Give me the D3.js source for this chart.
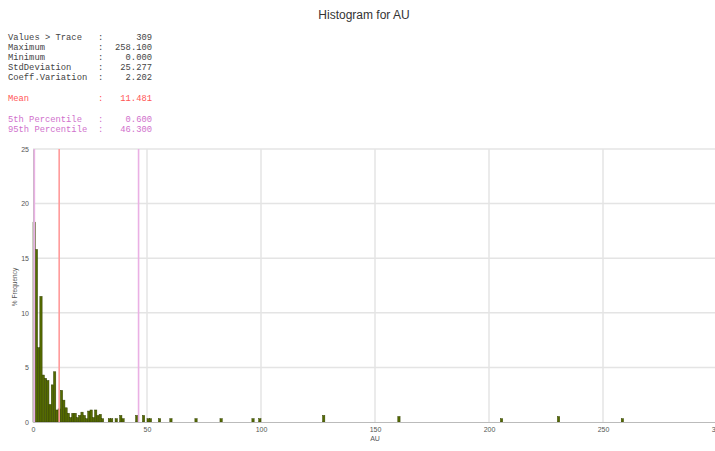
<!DOCTYPE html>
<html>
<head>
<meta charset="utf-8">
<script src="https://cdn.jsdelivr.net/npm/d3@7"></script>
<style>
  html, body { margin: 0; padding: 0; background: #fff; }
  svg { display: block; }
</style>
</head>
<body>
<svg id="chart" width="715" height="451"></svg>
<script>
// ---- data ----
const title = "Histogram for AU";
const xLabel = "AU";
const yLabel = "% Frequency";

// bin lower edges (bin width 1 AU) and % frequency
const binStart = [0,1,2,3,4,5,6,7,8,9,10,11,12,13,14,15,16,17,18,19,20,21,22,23,24,25,26,27,28,29,30,
  33,34,36,38,39,45,48,50,51,55,60,71,82,96,99,127,160,205,230,258];
const binFreq = [18.3,15.8,6.8,11.5,4.3,4.0,3.8,1.6,3.4,4.6,1.1,1.2,2.9,2.0,1.3,0.8,0.4,0.8,0.8,0.4,0.6,0.9,0.6,0.3,1.0,1.1,0.4,1.1,0.6,0.7,0.3,
  0.3,0.3,0.3,0.6,0.3,0.6,0.6,0.3,0.3,0.3,0.3,0.3,0.3,0.3,0.3,0.6,0.5,0.3,0.5,0.3];
const binWidth = 1;

const xTicks = [0,50,100,150,200,250,300];
const yTicks = [0,5,10,15,20,25];

const statLabels = ["Values > Trace","Maximum","Minimum","StdDeviation","Coeff.Variation"];
const statValues = ["309","258.100","0.000","25.277","2.202"];
const meanLabel = "Mean", meanValue = 11.481;
const pctLabels = ["5th Percentile","95th Percentile"];
const pctValues = [0.600, 46.300];

// ---- drawing ----
(function(){
const svg = d3.select("#chart");
const pL = 33, pR = 717, pT = 149, pB = 422;

const x = d3.scaleLinear().domain([0,300]).range([pL,pR]);
const y = d3.scaleLinear().domain([0,25]).range([pB,pT]);
const sans = "Liberation Sans, Arial, sans-serif";

// title
svg.append("text")
  .attr("x", 364).attr("y", 19)
  .attr("text-anchor","middle")
  .attr("font-family",sans)
  .attr("font-size", 12)
  .attr("fill","#333")
  .text(title);

// stats block
const mono = "Liberation Mono, Courier New, monospace";
const statG = svg.append("g").attr("font-family", mono).attr("font-size", 8.8);
function statLine(label, value, yy, color){
  statG.append("text").attr("x",8).attr("y",yy).attr("fill",color).text(label);
  statG.append("text").attr("x",98).attr("y",yy).attr("fill",color).text(":");
  statG.append("text").attr("x",152).attr("y",yy).attr("text-anchor","end").attr("fill",color).text(value);
}
const statY = [39.5,49.5,59.5,69.5,79.5];
statLabels.forEach((l,i)=>statLine(l, statValues[i], statY[i], "#444"));
statLine(meanLabel, meanValue.toFixed(3), 101, "#ff5555");
const pctY = [122,132];
pctLabels.forEach((l,i)=>statLine(l, pctValues[i].toFixed(3), pctY[i], "#d070cc"));

// gridlines
const grid = svg.append("g").attr("stroke","#e4e4e4").attr("stroke-width",1.5);
yTicks.filter(t=>t>0).forEach(t=>{
  grid.append("line").attr("x1",pL).attr("x2",715).attr("y1",y(t)).attr("y2",y(t));
});
xTicks.filter(t=>t>0).forEach(t=>{
  grid.append("line").attr("x1",x(t)).attr("x2",x(t)).attr("y1",pT).attr("y2",pB);
});

// bars
svg.append("g").selectAll("rect")
  .data(binStart.map((b,i)=>({b, f: binFreq[i]})))
  .join("rect")
  .attr("x", d=>x(d.b))
  .attr("width", d=>x(d.b+binWidth)-x(d.b))
  .attr("y", d=>y(d.f))
  .attr("height", d=>y(0)-y(d.f))
  .attr("fill","#556b00")
  .attr("stroke","#334000")
  .attr("stroke-width",0.5);

// axes
const xAxis = svg.append("g").attr("transform",`translate(0,${pB})`)
  .call(d3.axisBottom(x).tickValues(xTicks).tickSize(0).tickPadding(5).tickFormat(d3.format("d")));
const yAxis = svg.append("g").attr("transform",`translate(${pL},0)`)
  .call(d3.axisLeft(y).tickValues(yTicks).tickSize(0).tickPadding(4).tickFormat(d3.format("d")));
[xAxis,yAxis].forEach(a=>{
  a.select(".domain").attr("stroke","#bbb").attr("stroke-width",1);
  a.selectAll("text").attr("font-family",sans).attr("font-size",7).attr("fill","#555");
});

// reference lines
function vline(v, color){
  svg.append("line").attr("x1",x(v)).attr("x2",x(v)).attr("y1",pT).attr("y2",pB)
    .attr("stroke",color).attr("stroke-width",1.6);
}
vline(meanValue, "#ff9a9a");
pctValues.forEach(v=>vline(v, "#eab0e4"));

// axis labels
svg.append("text").attr("x", x(150)).attr("y", 441)
  .attr("text-anchor","middle").attr("font-family",sans)
  .attr("font-size",7).attr("fill","#555").text(xLabel);
svg.append("text").attr("transform","translate(17,287) rotate(-90)")
  .attr("text-anchor","middle").attr("font-family",sans)
  .attr("font-size",6.5).attr("fill","#555").text(yLabel);
})();
</script>
</body>
</html>
